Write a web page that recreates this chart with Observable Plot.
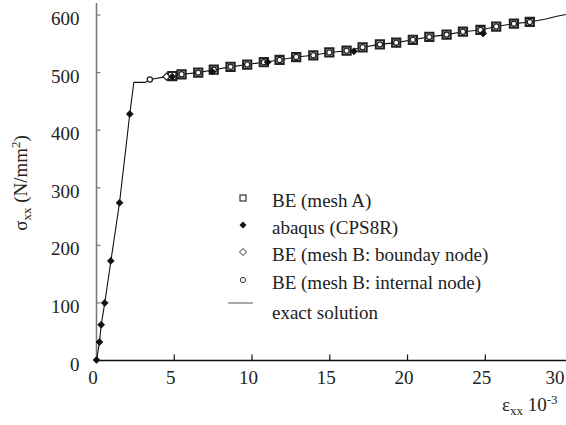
<!DOCTYPE html>
<html>
<head>
<meta charset="utf-8">
<script src="https://cdn.jsdelivr.net/npm/d3@7"></script>
<script src="https://cdn.jsdelivr.net/npm/@observablehq/plot@0.6"></script>
<style>
  body { margin: 0; background: #fff; }
  #wrap { position: relative; width: 566px; height: 425px; font-family: "Liberation Serif", "DejaVu Serif", "Noto Serif", "Noto Serif CJK SC", "Noto Serif CJK JP", FreeSerif, serif; color: #222; }
  #wrap svg.plot { position: absolute; left: 0; top: 0; }
  #wrap svg.plot text { font-family: "Liberation Serif", "DejaVu Serif", "Noto Serif", "Noto Serif CJK SC", "Noto Serif CJK JP", FreeSerif, serif; }
  .ylabel { position: absolute; left: 21px; top: 183px; transform: translate(-50%, -50%) rotate(-90deg); font-size: 19px; white-space: nowrap; }
  .xlabel { position: absolute; left: 502px; top: 392px; font-size: 19px; white-space: nowrap; }
  sub { font-size: 13px; vertical-align: -4px; }
  sup { font-size: 13px; vertical-align: 7px; }
  .leg { position: absolute; left: 0; height: 24px; line-height: 24px; font-size: 19px; white-space: nowrap; }
  .leg svg { position: absolute; left: 231px; top: 0; }
  .leg span { position: absolute; left: 272px; top: 3px; }
</style>
</head>
<body>
<div id="wrap"></div>
<script>
// exact solution
const strainExact = [0, 0.19, 0.30, 0.53, 0.92, 1.48, 2.14, 2.40, 3.15, 3.43, 4.50, 4.87, 5.47, 6.54, 7.54, 8.62, 9.69, 10.76, 11.77, 12.84, 13.94, 14.97, 16.08, 17.11, 18.22, 19.27, 20.34, 21.40, 22.51, 23.56, 24.69, 25.70, 26.84, 27.86, 28.9, 29.6, 30.22];
const stressExact = [0, 32, 61, 100, 172, 274, 428, 483, 483, 488, 493, 494, 497, 500, 505, 510, 514, 518, 522, 527, 530, 535, 538, 544, 549, 552, 557, 562, 566, 571, 574, 580, 585, 588, 593, 598, 601];
// BE (mesh A)
const strainA = [4.87, 5.47, 6.54, 7.54, 8.62, 9.69, 10.76, 11.77, 12.84, 13.94, 14.97, 16.08, 17.11, 18.22, 19.27, 20.34, 21.40, 22.51, 23.56, 24.69, 25.70, 26.84, 27.86];
const stressA = [494, 497, 500, 505, 510, 514, 518, 522, 527, 530, 535, 538, 544, 549, 552, 557, 562, 566, 571, 574, 580, 585, 588];
// abaqus (CPS8R)
const strainAbq = [0, 0.19, 0.30, 0.53, 0.92, 1.48, 2.14, 4.87, 7.43, 11.0, 16.55, 24.86];
const stressAbq = [1, 32, 62, 100, 173, 274, 428, 493, 502, 518, 537, 568];
// BE (mesh B: boundary node)
const strainBb = [4.50];
const stressBb = [493];
// BE (mesh B: internal node)
const strainBi = [3.43, 5.47, 6.54, 7.54, 8.62, 9.69, 10.76, 11.77, 12.84, 13.94, 14.97, 16.08, 17.11, 18.22, 19.27, 20.34, 21.40, 22.51, 23.56, 24.69, 25.70, 26.84, 27.86];
const stressBi = [488, 497, 500, 505, 510, 514, 518, 522, 527, 530, 535, 538, 544, 549, 552, 557, 562, 566, 571, 574, 580, 585, 588];

const xTicks = [0, 5, 10, 15, 20, 25, 30];
const yTicks = [0, 100, 200, 300, 400, 500, 600];
const legendLabels = ["BE (mesh A)", "abaqus (CPS8R)", "BE (mesh B: bounday node)", "BE (mesh B: internal node)", "exact solution"];

const zip = (xs, ys) => xs.map((x, i) => ({x, y: ys[i]}));
const exact = zip(strainExact, stressExact);
const meshA = zip(strainA, stressA);
const abq = zip(strainAbq, stressAbq);
const bb = zip(strainBb, stressBb);
const bi = zip(strainBi, stressBi);

const tickRight = {draw(ctx) { ctx.moveTo(0, 0); ctx.lineTo(4, 0); }};
const tickUp = {draw(ctx) { ctx.moveTo(0, 0); ctx.lineTo(0, -6); }};

const font = '"Liberation Serif", "DejaVu Serif", "Noto Serif", "Noto Serif CJK SC", serif';
const chart = Plot.plot({
  width: 566,
  height: 425,
  marginLeft: 96,
  marginRight: 0,
  marginTop: 3,
  marginBottom: 65,
  style: {fontFamily: font, fontSize: "19px", color: "#222", background: "white"},
  x: {domain: [0, 30.22]},
  y: {domain: [0, 620]},
  marks: [
    Plot.axisX({ticks: xTicks.slice(0, 6), tickSize: 0, tickPadding: 10, dx: -3.5, label: null, fontSize: 19, fill: "#222"}),
    Plot.axisX({ticks: xTicks.slice(6), tickSize: 0, tickPadding: 10, dx: -8, label: null, fontSize: 19, fill: "#222"}),
    Plot.axisY({ticks: yTicks, tickSize: 0, tickPadding: 17, dy: 4, label: null, fontSize: 19, fill: "#222"}),
    Plot.ruleX([0], {stroke: "#7a7a7a", strokeWidth: 1.6}),
    Plot.ruleY([0], {stroke: "#111", strokeWidth: 1.3}),
    Plot.dot(yTicks.slice(1), {y: d => d, frameAnchor: "left", symbol: tickRight, stroke: "#7a7a7a", fill: "none", strokeWidth: 1.2}),
    Plot.dot(xTicks.slice(1, 6), {x: d => d, frameAnchor: "bottom", symbol: tickUp, stroke: "#111", fill: "none", strokeWidth: 1.2}),
    Plot.line(exact, {x: "x", y: "y", stroke: "#111", strokeWidth: 1.1}),
    Plot.dot(meshA, {x: "x", y: "y", symbol: "square", r: 4.6, stroke: "#222", strokeWidth: 2.1, fill: "white"}),
    Plot.dot(bi, {x: "x", y: "y", symbol: "circle", r: 2.6, stroke: "#222", strokeWidth: 1.3, fill: "white"}),
    Plot.dot(bb, {x: "x", y: "y", symbol: "diamond2", r: 3.2, stroke: "#222", strokeWidth: 1.2, fill: "white"}),
    Plot.dot(abq, {x: "x", y: "y", symbol: "diamond2", r: 3.1, stroke: "#111", strokeWidth: 0.8, fill: "#111"})
  ]
});
chart.classList.add("plot");
const wrap = document.getElementById("wrap");
wrap.appendChild(chart);

const yl = document.createElement("div");
yl.className = "ylabel";
yl.innerHTML = "σ<sub>xx</sub> (N/mm<sup>2</sup>)";
wrap.appendChild(yl);
const xl = document.createElement("div");
xl.className = "xlabel";
xl.innerHTML = "ε<sub>xx</sub> 10<sup>-3</sup>";
wrap.appendChild(xl);

// legend
const symbols = [
  '<rect x="9" y="9" width="6" height="6" fill="white" stroke="#333" stroke-width="1.2"/>',
  '<path d="M12,8.5L15.5,12L12,15.5L8.5,12Z" fill="#111"/>',
  '<path d="M12,8.5L15.5,12L12,15.5L8.5,12Z" fill="white" stroke="#333" stroke-width="1"/>',
  '<circle cx="12" cy="12" r="2.6" fill="white" stroke="#333" stroke-width="1"/>',
  '<line x1="-3" y1="12" x2="22" y2="12" stroke="#555" stroke-width="1"/>'
];
const rowCenters = [198, 225, 252, 280, 303];
legendLabels.forEach((lab, i) => {
  const row = document.createElement("div");
  row.className = "leg";
  row.style.top = (rowCenters[i] - 12) + "px";
  row.innerHTML = '<svg width="30" height="24" style="overflow:visible">' + symbols[i] + '</svg><span' + (i === 4 ? ' style="top:10px"' : '') + '>' + lab + '</span>';
  wrap.appendChild(row);
});
</script>
</body>
</html>
